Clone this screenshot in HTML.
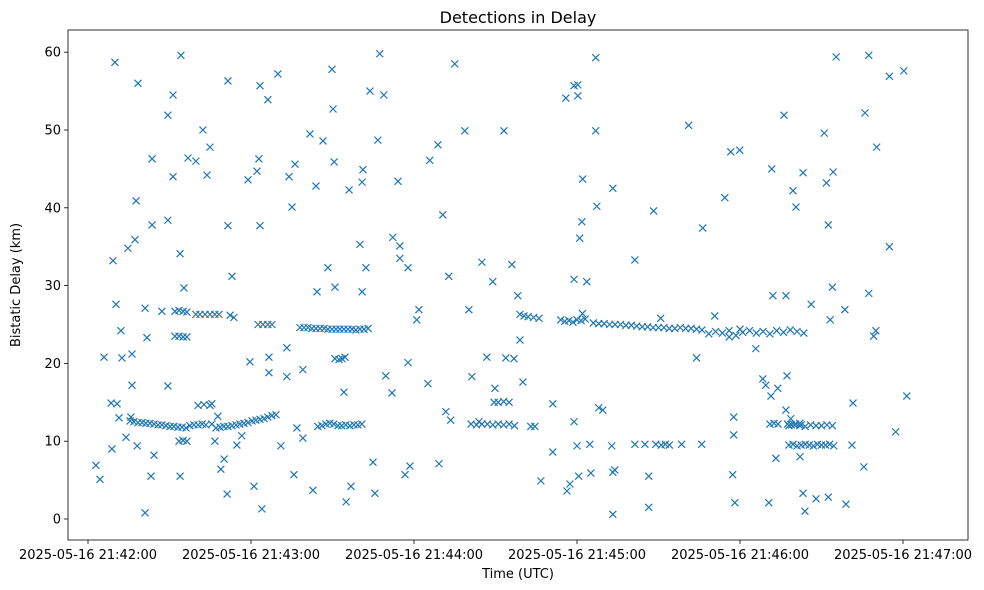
<!DOCTYPE html>
<html><head><meta charset="utf-8"><title>Detections in Delay</title>
<style>
html,body{margin:0;padding:0;background:#fff;}
svg{display:block;font-family:"DejaVu Sans","Liberation Sans",sans-serif;}
</style></head>
<body>
<svg id="chart" width="984" height="590" viewBox="0 0 984 590" xmlns="http://www.w3.org/2000/svg">
<rect x="0" y="0" width="984" height="590" fill="#fff"/>
<text x="518" y="23" text-anchor="middle" font-size="16" fill="#000">Detections in Delay</text>
<g id="marks"></g>
<rect x="68" y="30" width="900" height="510" fill="none" stroke="#000" stroke-width="0.8"/>
<g id="xaxis"></g>
<g id="yaxis"></g>
<text x="518" y="578" text-anchor="middle" font-size="13" fill="#000">Time (UTC)</text>
<text x="20" y="285" text-anchor="middle" font-size="13" fill="#000" transform="rotate(-90 20 285)">Bistatic Delay (km)</text>
</svg>
<script>
// x tick values (seconds after 21:42:00) and labels
const xTickVals = [0, 60, 120, 180, 240, 300];
const xTickLabels = ["2025-05-16 21:42:00","2025-05-16 21:43:00","2025-05-16 21:44:00","2025-05-16 21:45:00","2025-05-16 21:46:00","2025-05-16 21:47:00"];
const yTickVals = [0, 10, 20, 30, 40, 50, 60];
const yTickLabels = ["0","10","20","30","40","50","60"];

// scattered detections: seconds after 21:42:00
const scatterSec = [2.9,4.4,5.9,8.5,9.2,9.9,10.3,10.7,11.4,12.1,12.5,8.8,14,14.7,15.8,16.2,16.2,17.3,17.7,18.1,18.4,21,21.7,21,23.2,23.6,23.6,24.3,27.2,29.4,29.4,29.4,31.3,31.3,33.9,33.9,34.2,35.3,36.8,39.7,42.3,43.8,44.9,46.7,47.8,48.9,50.1,51.2,51.5,51.5,53,54.8,56.6,58.9,59.6,61.1,62.2,62.9,63.3,63.3,64,66.2,66.6,66.6,69.9,71,73.2,73.2,74,75.1,76.2,75.8,76.9,79.1,79.1,81.7,82.8,83.9,84.3,86.5,88.3,89.8,90.2,90.6,90.9,94.2,95,96.1,96.8,100.1,100.9,100.9,101.2,102.3,103.8,104.9,105.6,106.7,107.4,108.9,109.6,111.9,112.2,114.1,114.8,114.8,117.8,117.8,116.7,118.5,121.8,121,125.1,125.8,128.8,129.2,130.6,131.7,132.8,133.5,135,138.7,140.2,141.3,143.9,145,146.8,149,149.8,153.1,153.8,156,156.8,158.2,159,160.1,166.7,171.1,171.1,175.9,176.3,177.4,178.9,178.9,178.9,180.3,180.3,180,181,181.8,182.1,183.6,180.6,184.7,185.1,186.9,186.9,187.3,188,189.5,193.2,192.8,193.2,193.2,193.9,201.3,201.3,205,206.4,206.4,208.2,210.8,218.5,221.1,224,226.3,225.9,230.7,234.4,236.6,237.7,237.7,237.3,238.1,239.9,245.8,248.4,249.5,251.4,251.7,252.1,253.2,250.6,253.9,256.2,256.9,257.3,256.9,258.7,259.5,260.6,262.1,262.5,263.2,263.2,263.9,266.2,268,271,271.8,272.5,272.5,273.2,274,274.3,275.4,278.6,279,281.2,281.6,286,285.6,287.4,287.4,289.2,290,290.3,295,295,297.3,300.3,301.4];
const scatterKm = [6.9,5.1,20.8,14.9,33.2,58.7,27.6,14.8,13,24.2,20.7,9,10.5,34.8,13.1,17.2,21.2,35.9,40.9,9.4,56,27.1,23.3,0.8,5.5,46.3,37.8,8.2,26.7,51.9,17.1,38.4,54.5,44,34.1,5.5,59.6,29.7,46.4,46,50,44.2,47.8,10,13.2,6.4,7.7,3.2,56.3,37.7,31.2,9.5,10.7,43.6,20.2,4.2,44.7,46.3,55.7,37.7,1.3,53.9,20.8,18.8,57.2,9.4,22,18.3,44,40.1,45.6,5.7,11.7,19.2,10.4,49.5,3.7,42.8,29.2,48.6,32.3,57.8,52.7,45.9,29.8,16.3,2.2,42.3,4.2,35.3,29.2,43.3,44.9,32.3,55,7.3,3.3,48.7,59.8,54.5,18.4,16.2,36.2,43.4,35.1,33.5,32.3,20.1,5.7,6.8,26.9,25.6,17.4,46.1,48.1,7.1,39.1,13.8,31.2,12.7,58.5,49.9,26.9,18.3,12.5,33,20.8,30.5,16.8,49.9,20.7,32.7,20.6,28.7,23,17.6,4.9,8.6,14.8,54.1,3.6,4.5,55.7,12.5,30.8,55.8,54.4,9.4,36.1,38.2,43.7,30.5,5.5,9.6,5.9,59.3,49.9,40.2,14.3,14,42.5,9.4,6,0.6,6.3,9.6,33.3,9.6,5.5,1.5,39.6,25.8,9.6,50.6,20.7,37.4,9.6,26.1,41.3,47.2,13.1,10.8,5.7,2.1,47.4,21.9,18,17.2,15.8,45,28.7,7.8,2.1,16.8,51.9,28.7,18.4,14,12.9,42.2,40.1,8,12.1,44.5,3.3,1,27.6,2.6,49.6,43.2,37.8,2.8,25.6,29.8,44.6,59.4,26.9,1.9,9.5,14.9,52.2,6.7,59.6,29,23.5,24.2,47.8,35,56.9,11.2,57.6,15.8];

// dense track detections
const trackSec = [15.5,16.9,18.4,19.9,21.3,22.8,24.3,25.8,27.2,28.7,30.2,31.6,33.1,34.6,36.1,37.5,39,40.5,42,43.4,45.6,47.1,48.6,50,51.5,53,54.5,55.9,57.4,58.9,60.4,61.8,63.3,64.8,66.2,67.7,69.2,
32,33.5,35,36.4,32,33.5,35,36.4,33.5,35,36.4,
39.7,41.2,43.1,44.9,46.7,48.2,40.5,42.7,44.9,45.6,52.3,53.7,62.6,64.4,66.2,67.7,
78,79.5,81,82.4,83.9,85.4,86.9,88.3,89.8,91.3,92.7,94.2,95.7,97.2,98.6,100.1,101.6,103.1,
90.9,92.4,93.5,94.6,
84.6,86.1,87.6,89,90.5,92,93.4,94.9,96.4,97.9,99.3,100.8,
141,143,145,147,149,151,153,155,157,149.5,151,153,155,
159,160.5,162,164,166,163,164.5,
174,175.5,177,178.5,180,181.5,183,182,
186,188,190,192,194,196,198,200,202,204,206,208,210,212,214,216,218,220,222,224,
226,228.5,231,233.5,236,238.5,241,243.5,246,248.5,251,253.5,256,258.5,261,263.5,236,240,
209,211,212.5,214,
251,252.5,254,257.5,259,260.5,262,
258,259.5,261,262.5,264,265.5,267,268.5,270,271.5,273,274.5,
258,260,262,264,266,268,270,272,274];
const trackKm = [12.6,12.5,12.4,12.4,12.3,12.3,12.2,12.1,12.1,12,11.9,11.9,11.8,11.8,11.7,12,12.1,12.1,12.2,12.1,12.2,11.7,11.8,11.9,11.9,12,12.1,12.2,12.3,12.4,12.6,12.7,12.8,12.9,13.1,13.3,13.4,
26.7,26.8,26.7,26.6,23.5,23.5,23.4,23.4,10,10.1,10,
26.3,26.3,26.3,26.3,26.3,26.3,14.6,14.7,14.6,14.8,26.2,25.9,25,25,25,25,
24.6,24.6,24.6,24.5,24.5,24.5,24.5,24.4,24.4,24.4,24.4,24.4,24.4,24.4,24.3,24.4,24.4,24.5,
20.6,20.5,20.6,20.8,
11.9,12,12.2,12.3,12.2,12,12,12.1,12,12.1,12.1,12.2,
12.2,12.1,12.2,12.2,12.1,12.2,12.1,12.2,12,15,15,15.1,15,
26.3,26.1,26,25.9,25.8,11.9,11.9,
25.6,25.4,25.5,25.3,25.6,25.5,25.7,26.4,
25.2,25.1,25.1,25,25,25,24.9,24.9,24.8,24.7,24.7,24.6,24.6,24.6,24.5,24.5,24.6,24.5,24.5,24.4,
24.3,23.8,24.1,23.9,24.2,23.6,24,24.2,23.9,24.1,23.8,24.2,24,24.3,24.1,23.9,23.4,24.4,
9.6,9.5,9.6,9.5,
12.2,12.3,12.2,12.2,12.1,12.2,12.3,
9.5,9.6,9.4,9.5,9.6,9.5,9.4,9.6,9.5,9.5,9.6,9.4,
12,12.1,12,11.9,12.1,12,12,12.1,12];

const NS = "http://www.w3.org/2000/svg";
const X0 = 88, PXPERSEC = 163 / 60, Y0 = 519, PXPERKM = 7.78;
function xScale(s) { return X0 + s * PXPERSEC; }
function yScale(k) { return Y0 - k * PXPERKM; }

const xg = document.getElementById('xaxis');
xTickVals.forEach((v, i) => {
  const x = xScale(v);
  const t = document.createElementNS(NS, 'line');
  t.setAttribute('x1', x); t.setAttribute('x2', x); t.setAttribute('y1', 540); t.setAttribute('y2', 544);
  t.setAttribute('stroke', '#000'); t.setAttribute('stroke-width', '0.8');
  
  
  xg.appendChild(t);
  const l = document.createElementNS(NS, 'text');
  l.setAttribute('x', x); l.setAttribute('y', 559); l.setAttribute('text-anchor', 'middle');
  l.setAttribute('font-size', '13'); l.textContent = xTickLabels[i];
  
  
  xg.appendChild(l);
});
const yg = document.getElementById('yaxis');
yTickVals.forEach((v, i) => {
  const y = yScale(v);
  const t = document.createElementNS(NS, 'line');
  t.setAttribute('x1', 64); t.setAttribute('x2', 68); t.setAttribute('y1', y); t.setAttribute('y2', y);
  t.setAttribute('stroke', '#000'); t.setAttribute('stroke-width', '0.8');
  
  
  yg.appendChild(t);
  const l = document.createElementNS(NS, 'text');
  l.setAttribute('x', 61); l.setAttribute('y', y + 4.5); l.setAttribute('text-anchor', 'end');
  l.setAttribute('font-size', '13'); l.textContent = yTickLabels[i];
  
  
  yg.appendChild(l);
});

const mg = document.getElementById('marks');
function addMark(s, k) {
  const x = xScale(s), y = yScale(k), r = 3.5;
  const p = document.createElementNS(NS, 'path');
  p.setAttribute('d', `M${x-r},${y-r}L${x+r},${y+r}M${x-r},${y+r}L${x+r},${y-r}`);
  p.setAttribute('stroke', '#1f77b4'); p.setAttribute('stroke-width', '1.2'); p.setAttribute('fill', 'none');
  
  
  mg.appendChild(p);
}
scatterSec.forEach((s, i) => addMark(s, scatterKm[i]));
trackSec.forEach((s, i) => addMark(s, trackKm[i]));
</script>
</body></html>
